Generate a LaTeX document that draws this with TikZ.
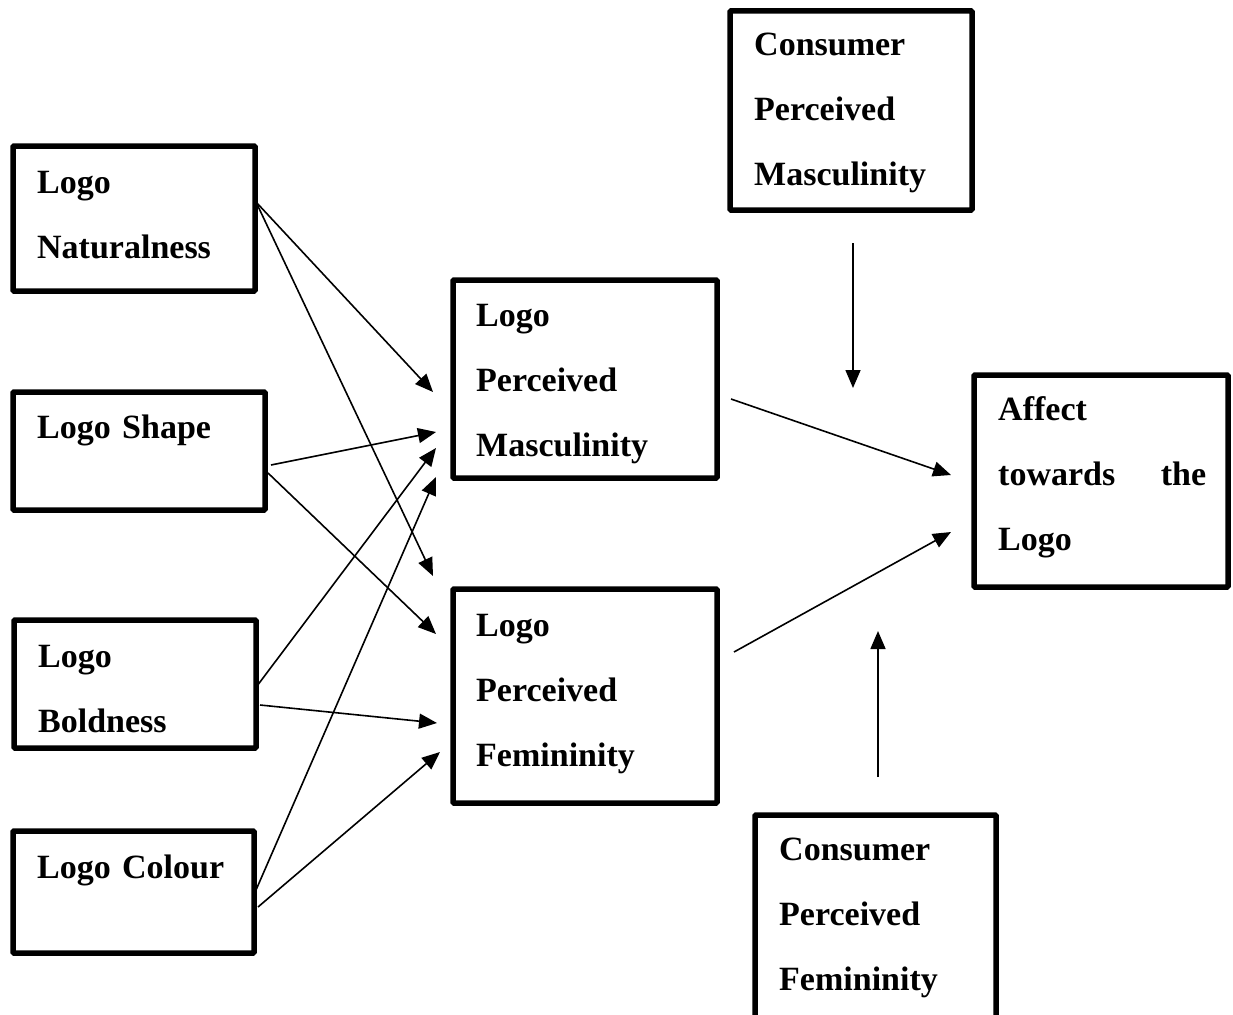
\documentclass[tikz,border=0pt]{standalone}
\usepackage{fontspec}
\setmainfont{Liberation Serif}
\usetikzlibrary{arrows.meta}
\begin{document}
\begin{tikzpicture}[x=1pt,y=-1pt,
  box/.style={draw=black,line width=5.5pt,rounded corners=1pt,inner sep=0pt,outer sep=0pt,anchor=north west,fill=none},
  lbl/.style={anchor=base west,inner sep=0pt,align=left,font=\fontsize{34}{65}\selectfont\bfseries},
  arr/.style={line width=1.6pt,-{Triangle[length=18pt,width=15pt]}}]
\fill[white] (0,0) rectangle (1233,1014);
\useasboundingbox (0,0) rectangle (1233,1014);
% boxes
\node[box,minimum width=242pt,minimum height=145pt] (nat) at (13,146) {};
\node[box,minimum width=252pt,minimum height=118pt] (shape) at (13,392) {};
\node[box,minimum width=242pt,minimum height=128pt] (bold) at (14,620) {};
\node[box,minimum width=241pt,minimum height=122pt] (colour) at (13,831) {};
\node[box,minimum width=264pt,minimum height=198pt] (pmasc) at (453,280) {};
\node[box,minimum width=264pt,minimum height=214pt] (pfem) at (453,589) {};
\node[box,minimum width=242pt,minimum height=199pt] (cmasc) at (730,11) {};
\node[box,minimum width=254pt,minimum height=212pt] (affect) at (974,375) {};
\node[box,minimum width=241pt,minimum height=230pt] (cfem) at (755,815) {};
% texts
\node[lbl,text width=215pt] (natT) at (37,193) {Logo\\Naturalness};
\node[lbl,text width=225pt] (shapeT) at (37,438) {Logo Shape};
\node[lbl,text width=215pt] (boldT) at (38,667) {Logo\\Boldness};
\node[lbl,text width=215pt] (colourT) at (37,878) {Logo Colour};
\node[lbl,text width=235pt] (pmascT) at (476,326) {Logo\\Perceived\\Masculinity};
\node[lbl,text width=235pt] (pfemT) at (476,636) {Logo\\Perceived\\Femininity};
\node[lbl,text width=215pt] (cmascT) at (754,56) {Consumer\\Perceived\\Masculinity};
\node[lbl,text width=208pt] (affectT) at (998,420) {Affect\\towards\hfill the\\Logo};
\node[lbl,text width=215pt] (cfemT) at (779,860) {Consumer\\Perceived\\Femininity};
% connector end points
\coordinate (natS) at (256,202);
\coordinate (shapeS1) at (271,465);
\coordinate (shapeS2) at (268,473);
\coordinate (boldS1) at (257,686);
\coordinate (boldS2) at (260,705);
\coordinate (colS1) at (256,890);
\coordinate (colS2) at (258,907);
\coordinate (pmE1) at (433,392);
\coordinate (pmE2) at (436,432);
\coordinate (pmE3) at (436,448);
\coordinate (pmE4) at (436,477);
\coordinate (pfE1) at (433,576);
\coordinate (pfE2) at (436,634);
\coordinate (pfE3) at (437,723);
\coordinate (pfE4) at (440,752);
\coordinate (pmS) at (731,399);
\coordinate (pfS) at (734,652);
\coordinate (afE1) at (951,475);
\coordinate (afE2) at (951,532);
\coordinate (cmS) at (853,243);
\coordinate (cmE) at (853,388);
\coordinate (cfS) at (878,777);
\coordinate (cfE) at (878,631);
% connectors
\draw[arr] (natS) -- (pmE1);
\draw[arr] (natS) -- (pfE1);
\draw[arr] (shapeS1) -- (pmE2);
\draw[arr] (shapeS2) -- (pfE2);
\draw[arr] (boldS1) -- (pmE3);
\draw[arr] (boldS2) -- (pfE3);
\draw[arr] (colS1) -- (pmE4);
\draw[arr] (colS2) -- (pfE4);
\draw[arr] (pmS) -- (afE1);
\draw[arr] (pfS) -- (afE2);
\draw[arr] (cmS) -- (cmE);
\draw[arr] (cfS) -- (cfE);
\end{tikzpicture}
\end{document}
